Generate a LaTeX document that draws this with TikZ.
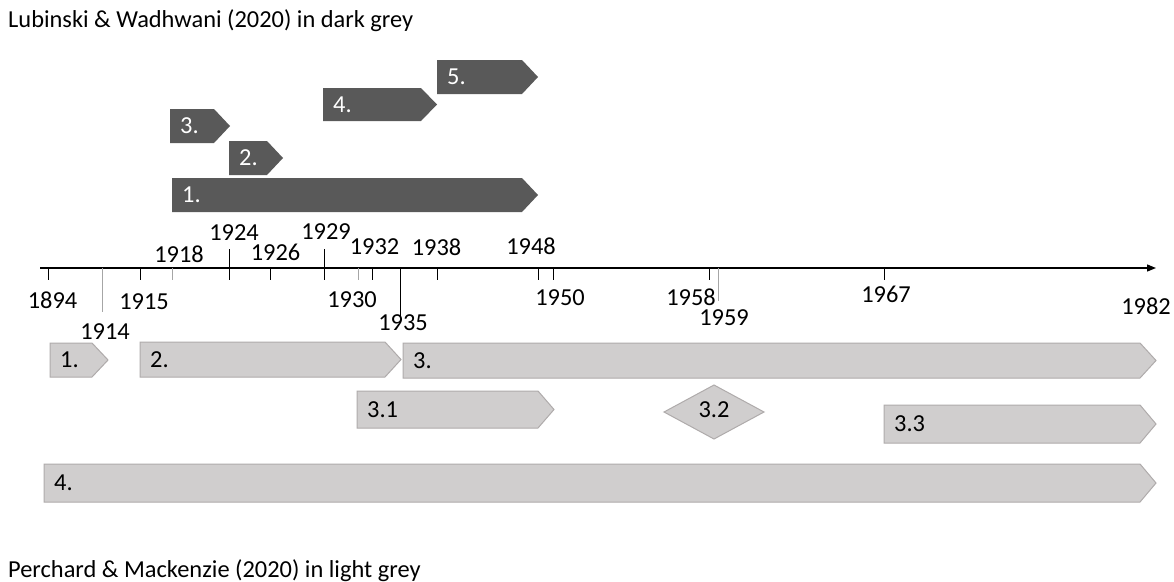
\documentclass[tikz,border=0pt]{standalone}
\usepackage{fontspec}
\setmainfont{Carlito}
\usetikzlibrary{arrows.meta}
\definecolor{darkbar}{HTML}{595959}
\definecolor{lightbar}{HTML}{D0CECE}
\definecolor{lightedge}{HTML}{AFABAB}
\definecolor{tickgrey}{HTML}{A6A6A6}
\newcommand\tlarrow[7]{%
  \path[#7] (#2,#4) -- ({#3-16},#4) -- (#3,{(#4+#5)/2}) -- ({#3-16},#5) -- (#2,#5) -- cycle;
  \node[anchor=west] (#1) at ({#2+10},{(#4+#5)/2}) {#6};}
\begin{document}
\begin{tikzpicture}[x=1pt,y=-1pt,
  every node/.style={font=\fontsize{24.4}{29}\selectfont, inner sep=0pt},
  darkstyle/.style={fill=darkbar},
  lightstyle/.style={fill=lightbar, draw=lightedge, line width=1pt},
  tick/.style={line width=1pt, black},
  gtick/.style={line width=1pt, tickgrey},
  yr/.style={anchor=center}]
\useasboundingbox (0,0) rectangle (1174,581);
\fill[white] (0,0) rectangle (1174,581);

% titles
\node[anchor=base west] (t1) at (8,27) {Lubinski \& Wadhwani (2020) in dark grey};
\node[anchor=base west] (t2) at (8,577) {Perchard \& Mackenzie (2020) in light grey};

% dark bars
\begin{scope}[every node/.append style={text=white}]
\tlarrow{d5}{437}{538}{60}{94}{5.}{darkstyle}
\tlarrow{d4}{323}{437}{88}{121}{4.}{darkstyle}
\tlarrow{d3}{170}{230}{109}{143}{3.}{darkstyle}
\tlarrow{d2}{229}{283}{141}{175}{2.}{darkstyle}
\tlarrow{d1}{172}{538}{178}{212}{1.}{darkstyle}
\end{scope}

% axis
\coordinate (axs) at (40,268);
\coordinate (axe) at (1156,268);
\draw[line width=1.3pt, -{Triangle[length=9pt,width=7pt]}] (axs) -- (axe);

% ticks
\draw[tick] (48,268) -- (48,280);
\draw[gtick] (102,268) -- (102,312);
\draw[tick] (140,268) -- (140,280);
\draw[gtick] (172,268) -- (172,280);
\draw[tick] (229.5,249) -- (229.5,280);
\draw[tick] (270.5,268) -- (270.5,280);
\draw[tick] (324.5,249) -- (324.5,280);
\draw[gtick] (358,268) -- (358,280);
\draw[tick] (372,268) -- (372,280);
\draw[tick] (400.5,268) -- (400.5,316);
\draw[tick] (437.5,268) -- (437.5,280);
\draw[tick] (538,268) -- (538,280);
\draw[tick] (553.5,268) -- (553.5,280);
\draw[tick] (709,268) -- (709,280);
\draw[gtick] (718,268) -- (718,301);
\draw[tick] (884,268) -- (884,280);

% year labels
\node[yr] (y1894) at (52.6,300) {1894};
\node[yr] (y1914) at (105,332) {1914};
\node[yr] (y1915) at (144,302) {1915};
\node[yr] (y1918) at (179,254) {1918};
\node[yr] (y1924) at (234,233) {1924};
\node[yr] (y1926) at (275.5,252) {1926};
\node[yr] (y1929) at (326,232) {1929};
\node[yr] (y1930) at (352,300) {1930};
\node[yr] (y1932) at (374.5,247) {1932};
\node[yr] (y1935) at (403,323) {1935};
\node[yr] (y1938) at (436.5,247) {1938};
\node[yr] (y1948) at (531,246) {1948};
\node[yr] (y1950) at (560,298) {1950};
\node[yr] (y1958) at (691,297) {1958};
\node[yr] (y1959) at (724,318) {1959};
\node[yr] (y1967) at (886,294) {1967};
\node[yr] (y1982) at (1146,306) {1982};

% light bars
\tlarrow{l1}{50}{108}{343}{377}{1.}{lightstyle}
\tlarrow{l2}{140}{401}{342}{377}{2.}{lightstyle}
\tlarrow{l3}{403}{1156}{343}{378}{3.}{lightstyle}
\tlarrow{l31}{357}{554}{391}{428}{3.1}{lightstyle}
\tlarrow{l33}{884}{1156}{405}{443}{3.3}{lightstyle}
\tlarrow{l4}{44}{1156}{464}{502}{4.}{lightstyle}
\path[lightstyle] (664,412) -- (714,385) -- (764,412) -- (714,439) -- cycle;
\node (l32) at (714,410) {3.2};
\end{tikzpicture}
\end{document}
